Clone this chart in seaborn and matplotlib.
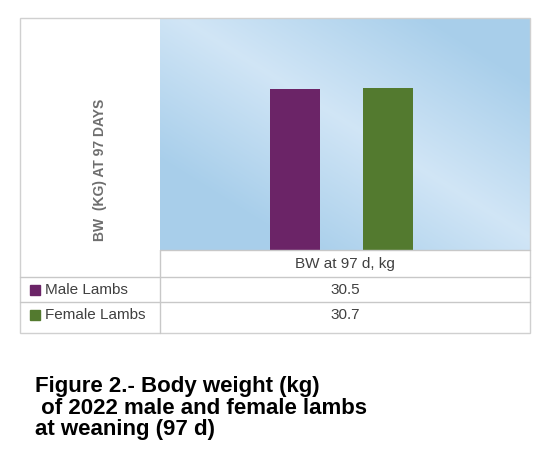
import matplotlib
matplotlib.use("Agg")
import matplotlib.pyplot as plt
import seaborn as sns
import numpy as np
import pandas as pd
from matplotlib.patches import Rectangle

categories = ["Male Lambs", "Female Lambs"]
values = [30.5, 30.7]
colors = ["#6b2467", "#537a2f"]
header = "BW at 97 d, kg"

sns.set_style("white")
plt.rcParams['font.family'] = ['Liberation Sans', 'DejaVu Sans']
W, H = 545, 470
fig = plt.figure(figsize=(W/100, H/100), dpi=100)
def fx(x): return x / W
def fy(y): return 1 - y / H

fig.patches.append(Rectangle((fx(20), fy(333)), fx(510), 315/H, transform=fig.transFigure,
                             fill=False, ec="#d0d0d0", lw=1))

ax = fig.add_axes([fx(160), fy(250), fx(370), 232/H])
xx, yy = np.meshgrid(np.linspace(0, 1, 200), np.linspace(0, 1, 200))
d = np.abs((xx - (1 - yy)) * 0.9 - 0.05)
g = np.clip(d / 0.6, 0, 1)
c1 = np.array([0.82, 0.90, 0.965]); c2 = np.array([0.66, 0.81, 0.92])
img = c1 * (1 - g[..., None]) + c2 * g[..., None]
ax.imshow(img, extent=[0, 1, 0, 1], aspect="auto", origin="lower", zorder=0, transform=ax.transAxes)

df = pd.DataFrame({"cat": categories, "val": values})
sns.barplot(data=df, x="cat", y="val", hue="cat", palette=colors, width=0.54, ax=ax,
            zorder=2, legend=False, linewidth=0, saturation=1)
ax.set_xlim(-1.45, 2.53)
ax.set_ylim(0, 44)
ax.set_xticks([]); ax.set_yticks([])
ax.set_xlabel(""); ax.set_ylabel("")
for s in ax.spines.values():
    s.set_visible(False)

fig.text(fx(100), fy(170), "BW  (KG) AT 97 DAYS", rotation=90, ha="center", va="center",
         color="#6e6e6e", fontsize=10, fontweight="bold")

lc = "#c8c8c8"
def hline(y, x0, x1):
    fig.add_artist(plt.Line2D([fx(x0), fx(x1)], [fy(y), fy(y)], color=lc, lw=1, transform=fig.transFigure))
def vline(x, y0, y1):
    fig.add_artist(plt.Line2D([fx(x), fx(x)], [fy(y0), fy(y1)], color=lc, lw=1, transform=fig.transFigure))
hline(250, 160, 530); hline(277, 20, 530); hline(302, 20, 530)
vline(160, 250, 333)
fig.text(fx(345), fy(264), header, ha="center", va="center", fontsize=11, color="#404040")
for i, (c, v, col) in enumerate(zip(categories, values, colors)):
    yc = 290 + i * 25
    fig.patches.append(Rectangle((fx(30), fy(yc + 5)), fx(10), 10/H, transform=fig.transFigure, color=col))
    fig.text(fx(45), fy(yc), c, ha="left", va="center", fontsize=11, color="#404040")
    fig.text(fx(345), fy(yc), f"{v}", ha="center", va="center", fontsize=11, color="#404040")

fig.text(fx(35), fy(408), "Figure 2.- Body weight (kg)\n of 2022 male and female lambs\nat weaning (97 d)",
         ha="left", va="center", fontsize=16, fontweight="bold", linespacing=1.05, color="black")

fig.savefig("out.png", dpi=100)
